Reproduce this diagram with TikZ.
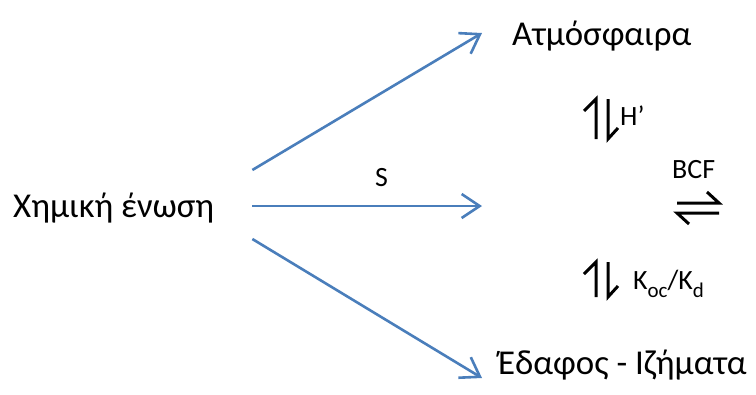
\documentclass[tikz,border=0pt]{standalone}
\usepackage{fontspec}
\setmainfont{Carlito}
\usetikzlibrary{arrows.meta, calc}

\definecolor{flowblue}{HTML}{4A7EBB}
\newcommand{\lowsub}[1]{\raisebox{-0.6ex}{\fontsize{21}{22}\selectfont #1}}

\begin{document}
\begin{tikzpicture}[x=1bp, y=-1bp,
  flow/.style={flowblue, line width=2.6bp, -{Straight Barb[length=18bp, width=24bp, line width=2.6bp]}},
  harp/.style={black, line width=3bp, line join=miter},
  bigtxt/.style={inner sep=0pt, anchor=base west, font=\fontsize{35}{38}\selectfont},
  smalltxt/.style={inner sep=0pt, anchor=base west, font=\fontsize{28}{30}\selectfont}]
  \useasboundingbox (0,0) rectangle (756,394);
  % compartments
  \node[bigtxt] (chem) at (13,217) {Χημική ένωση};
  \node[bigtxt] (atm) at (512,45) {Ατμόσφαιρα};
  \node[bigtxt] (sed) at (498,374) {Έδαφος - Ιζήματα};
  \coordinate (mid) at (482,206);
  % transfer arrows
  \draw[flow] (chem.east |- 0,170) ++(38,0) -- ($(atm.west |- 0,33)+(-30,0)$);
  \draw[flow] (chem.east |- mid) ++(38,0) -- (mid);
  \node[smalltxt] (slab) at (375,186) {S};
  \draw[flow] (chem.east |- 0,239) ++(38,0) -- ($(sed.west |- 0,378)+(-16,0)$);
  % partition equilibria
  \foreach \yt/\yb in {99/139, 262/297} {
    \draw[harp] (596,\yb) -- (596,\yt) -- (584,\yt+12);
    \draw[harp] (608,\yt) -- (608,\yb) -- (618,\yb-11);
  }
  \node[smalltxt] (hlab) at (620,125) {H’};
  \node[smalltxt] (klab) at (633,289) {K\lowsub{oc}/K\lowsub{d}};
  \draw[harp] (677,203) -- (719,203) -- (707,192);
  \draw[harp] (719,213) -- (677,213) -- (689,224);
  \node[smalltxt] (blab) at (672,178) {BCF};
\end{tikzpicture}
\end{document}
